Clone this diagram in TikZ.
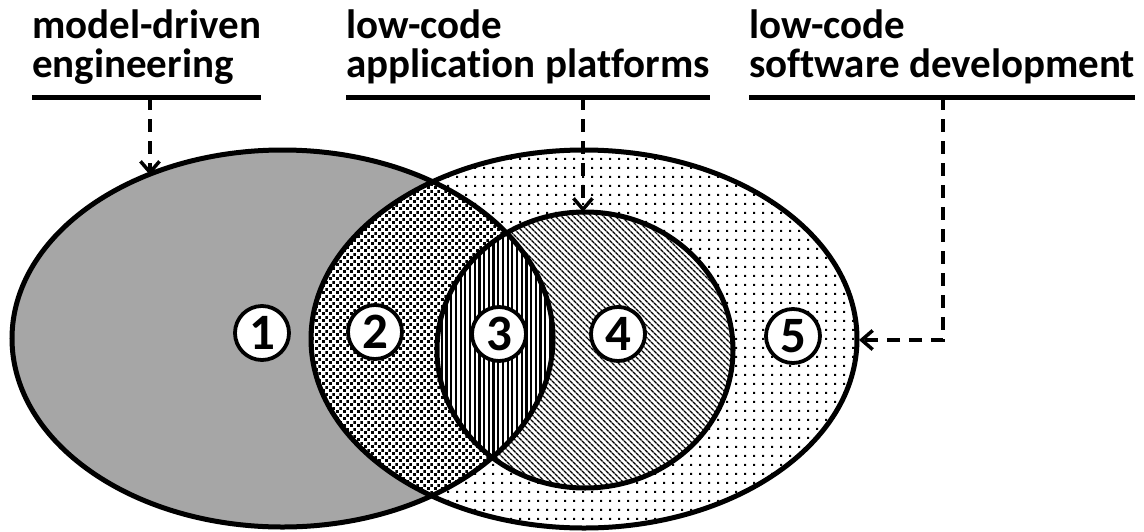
\documentclass[tikz,border=0pt]{standalone}
\usepackage{fontspec}
\setmainfont{Carlito}[Ligatures={NoCommon,NoContextual},Contextuals=NoAlternate]
\usetikzlibrary{patterns,patterns.meta,arrows.meta}

\definecolor{mdegray}{RGB}{166,166,166}

% small staggered squares
\pgfdeclarepatternformonly{squarechecks}{\pgfqpoint{0pt}{0pt}}{\pgfqpoint{7pt}{7pt}}{\pgfqpoint{7pt}{7pt}}{%
  \pgfpathrectangle{\pgfqpoint{0.2pt}{0.2pt}}{\pgfqpoint{3.1pt}{3.1pt}}%
  \pgfpathrectangle{\pgfqpoint{3.7pt}{3.7pt}}{\pgfqpoint{3.1pt}{3.1pt}}%
  \pgfusepath{fill}}
% sparse square dots
\pgfdeclarepatternformonly{sparsedots}{\pgfqpoint{0pt}{0pt}}{\pgfqpoint{8.6pt}{8.6pt}}{\pgfqpoint{8.6pt}{8.6pt}}{%
  \pgfpathrectangle{\pgfqpoint{3.2pt}{3.2pt}}{\pgfqpoint{2.2pt}{2.2pt}}%
  \pgfusepath{fill}}

\begin{document}
\begin{tikzpicture}[x=1pt,y=-1pt,
  sizeA/.style={x radius=270.5pt, y radius=188.5pt},
  sizeB/.style={x radius=273pt, y radius=189pt},
  sizeC/.style={x radius=148pt, y radius=138pt},
  ring/.style={draw=black, line width=5pt},
  lab/.style={anchor=base west, align=left, inner sep=0pt,
    font=\bfseries\fontsize{41}{39}\selectfont},
  uline/.style={line width=5pt},
  dasharrow/.style={line width=3.5pt, dash pattern=on 13pt off 9pt,
    -{Straight Barb[length=11pt,width=19pt,line width=3.5pt]}},
  num/.style={circle, draw, line width=3.8pt, fill=white, minimum size=54pt,
    inner sep=0pt, font=\bfseries\fontsize{51}{51}\selectfont}]
\useasboundingbox (0,0) rectangle (1144,531);

% centres of the three sets
\coordinate (cA) at (282.5,338.5);
\coordinate (cB) at (584,339);
\coordinate (cC) at (585,350);

% low-code software development (outer set)
\fill[white] (cB) ellipse [sizeB];
\fill[pattern=sparsedots] (cB) ellipse [sizeB];
% model-driven engineering
\fill[mdegray] (cA) ellipse [sizeA];
\begin{scope}
  \clip (cA) ellipse [sizeA];
  \fill[white] (cB) ellipse [sizeB];
  \fill[pattern=squarechecks] (cB) ellipse [sizeB];
\end{scope}
% low-code application platforms
\fill[white] (cC) ellipse [sizeC];
\fill[pattern={Lines[angle=-45,distance=4pt,line width=1.4pt]}] (cC) ellipse [sizeC];
\begin{scope}
  \clip (cA) ellipse [sizeA];
  \fill[white] (cC) ellipse [sizeC];
  \fill[pattern={Lines[angle=90,distance=4.7pt,line width=2.2pt]}] (cC) ellipse [sizeC];
\end{scope}
% outlines
\draw[ring] (cB) ellipse [sizeB];
\draw[ring] (cA) ellipse [sizeA];
\draw[ring] (cC) ellipse [sizeC];

% region numbers
\node[num] (n1) at (262,333) {1};
\node[num] (n2) at (375,332) {2};
\node[num] (n3) at (499,334) {3};
\node[num] (n4) at (618,334) {4};
\node[num] (n5) at (793,336) {5};

% labels (anchored on the baseline of their last line)
\node[lab] (lmde) at (32,77) {model-driven\\engineering};
\node[lab] (lap) at (346,77) {low-code\\application platforms};
\node[lab] (lsd) at (749,77) {low-code\\software development};

\coordinate (ul) at (0,97);
\draw[uline] (lmde.west |- ul) -- (lmde.east |- ul);
\draw[uline] (lap.west |- ul) -- (lap.east |- ul);
\draw[uline] (lsd.west |- ul) -- (lsd.east |- ul);

% pointers from labels to sets
\coordinate (tA) at (150,175);
\coordinate (tC) at (583,212);
\coordinate (tB) at (859,340);
\coordinate (bend) at (943,340);
\draw[dasharrow] (tA |- ul) -- (tA);
\draw[dasharrow] (tC |- ul) -- (tC);
\draw[dasharrow] (bend |- ul) -- (bend) -- (tB);
\end{tikzpicture}
\end{document}
